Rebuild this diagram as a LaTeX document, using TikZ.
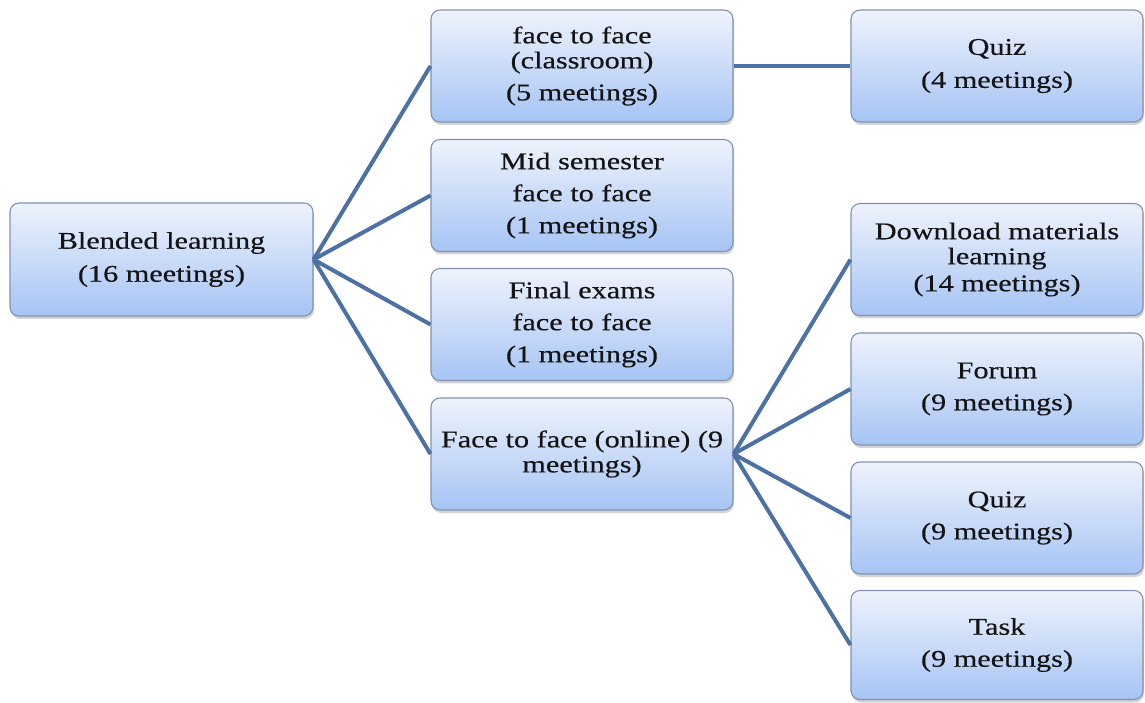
\documentclass[tikz,border=0pt]{standalone}
\usepackage{fontspec}
\setmainfont{Liberation Serif}[FakeStretch=1.26,FakeBold=0.4]
\usetikzlibrary{shadows}
\definecolor{boxtop}{RGB}{238,243,252}
\definecolor{boxbot}{RGB}{166,196,244}
\definecolor{boxline}{RGB}{128,146,178}
\definecolor{conn}{RGB}{76,113,162}
\definecolor{txt}{RGB}{20,20,20}
\tikzset{
  box/.style={rectangle, rounded corners=9pt, draw=boxline, line width=1.1pt,
    top color=boxtop, bottom color=boxbot, minimum width=302pt, minimum height=112pt,
    align=center, font=\fontsize{24}{25}\selectfont, text=txt, inner sep=2pt,
    drop shadow={shadow xshift=1pt, shadow yshift=-3pt, opacity=0.35}},
  rbox/.style={box, minimum width=292pt},
  conn/.style={draw=conn, line width=4pt}
}
\begin{document}
\begin{tikzpicture}[x=1pt,y=1pt]
\useasboundingbox (0,0) rectangle (1145,702);
\node[box, minimum width=303pt, minimum height=113pt] (blend) at (161.5,442.5) {Blended learning\\[8pt](16 meetings)};
\node[box] (c1) at (582,636) {face to face\\(classroom)\\[7pt](5 meetings)};
\node[box] (c2) at (582,506.5) {Mid semester\\[7pt]face to face\\[7pt](1 meetings)};
\node[box] (c3) at (582,377.5) {Final exams\\[7pt]face to face\\[7pt](1 meetings)};
\node[box] (c4) at (582,248) {Face to face (online) (9\\meetings)};
\node[rbox] (q4) at (997,636) {Quiz\\[8pt](4 meetings)};
\node[rbox] (dl) at (997,442.5) {Download materials\\learning\\[2pt](14 meetings)};
\node[rbox] (fo) at (997,313) {Forum\\[7pt](9 meetings)};
\node[rbox] (q9) at (997,184) {Quiz\\[7pt](9 meetings)};
\node[rbox, minimum height=109pt] (tk) at (997,57) {Task\\[7pt](9 meetings)};
\draw[conn] (blend.east) -- (c1.west);
\draw[conn] (blend.east) -- (c2.west);
\draw[conn] (blend.east) -- (c3.west);
\draw[conn] (blend.east) -- (c4.west);
\draw[conn] (c1.east) -- (q4.west);
\draw[conn] (c4.east) -- (dl.west);
\draw[conn] (c4.east) -- (fo.west);
\draw[conn] (c4.east) -- (q9.west);
\draw[conn] (c4.east) -- (tk.west);
\end{tikzpicture}
\end{document}
